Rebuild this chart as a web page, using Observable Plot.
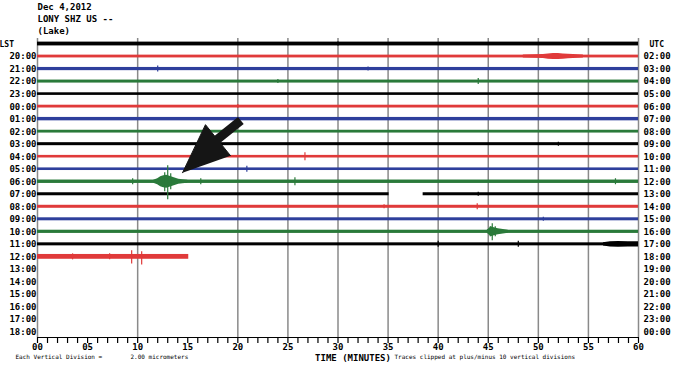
<!DOCTYPE html>
<html><head><meta charset="utf-8">
<script src="https://cdn.jsdelivr.net/npm/d3@7"></script>
<script src="https://cdn.jsdelivr.net/npm/@observablehq/plot@0.6"></script>
<style>body{margin:0;background:#fff} svg{display:block}</style>
</head><body><div id="chart"></div>
<script>
// ---- data ----
const titleLines = ["Dec 4,2012", "LONY SHZ US --", "(Lake)"];
const lstLabels = ["LST","20:00","21:00","22:00","23:00","00:00","01:00","02:00","03:00","04:00","05:00","06:00",
  "07:00","08:00","09:00","10:00","11:00","12:00","13:00","14:00","15:00","16:00","17:00","18:00"];
const utcLabels = ["UTC","02:00","03:00","04:00","05:00","06:00","07:00","08:00","09:00","10:00","11:00","12:00",
  "13:00","14:00","15:00","16:00","17:00","18:00","19:00","20:00","21:00","22:00","23:00","00:00"];
const xTickMinutes = [0,5,10,15,20,25,30,35,40,45,50,55,60];
const xTickLabels = ["00","05","10","15","20","25","30","35","40","45","50","55","60"];
const minorTickMinutes = [0,1,2,3,4,5,6,7,8,9,10,11,12,13,14,15,16,17,18,19,20,21,22,23,24,25,26,27,28,29,30,
  31,32,33,34,35,36,37,38,39,40,41,42,43,44,45,46,47,48,49,50,51,52,53,54,55,56,57,58,59,60];
const gridMinutes = [10,20,25,30,35,40,45,50,55];
const xTitle = "TIME (MINUTES)";
const noteLeft = "Each Vertical Division =";
const noteScale = "2.00 micrometers";
const noteRight = "Traces clipped at plus/minus 10 vertical divisions";

// trace rows recorded (row index = line from top), start/end minute, noise half-width (px)
const traceRow   = [0,1,2,3,4,5,6,7,8,9,10,11,12,12,13,14,15,16,17];
const traceStart = [0,0,0,0,0,0,0,0,0,0,0,0,0,38.5,0,0,0,0,0];
const traceEnd   = [60,60,60,60,60,60,60,60,60,60,60,60,35.1,60,60,60,60,60,15.1];
const traceNoise = [1.9,1.4,1.6,1.5,1.3,1.4,1.7,1.4,1.5,1.3,1.3,1.7,1.5,1.5,1.5,1.5,1.6,1.5,2.4];

// individual spikes: row, minute, up (px), down (px)
const spikeRow    = [17,17,17,17,11,11,11,11,11,11,11,15,15,15,13,13,9,10,2,3,8,16,16,5,14,2,3,0,8,12];
const spikeMinute = [9.4,10.4,3.5,7.2,13.0,12.7,13.3,9.5,16.3,25.7,57.7,45.4,45.2,45.7,43.9,34.6,26.7,20.9,12.0,44.0,52.0,40.0,48.0,20.0,50.5,33.0,24.0,30.0,16.0,44.0];
const spikeUp     = [6,5,3,3,16,9,8,3,3,4,3,8,5,5,3,2,4,3,3,3,2,3,3,2,2,2,2,2,2,2];
const spikeDown   = [7,8,3,3,18,10,8,3,3,4,3,9,5,5,3,2,4,3,3,3,2,3,3,2,2,2,2,2,2,2];

// event envelopes: row, minutes, half-amplitude (px)
const quakeRow = 11;
const quakeMinute = [11.6,12.0,12.3,12.6,12.9,13.2,13.5,13.8,14.1,14.5,15.0];
const quakeHalf   = [1.5,3,5,6,6.5,5.5,4.5,3.5,2.5,2,1.5];
const burstRow = 1;
const burstMinute = [48.5,49.5,50.5,51.0,51.5,52.0,52.5,53.0,54.0,54.5];
const burstHalf   = [1.5,1.8,2.0,2.6,3.0,3.0,2.6,2.2,1.8,1.5];
const event10Row = 15;
const event10Minute = [44.9,45.3,45.6,46.0,46.5,47.0];
const event10Half   = [1.5,5,4,3,2.2,1.5];
const tail11Row = 16;
const tail11Minute = [56.5,57.2,58.0,59.0,60.0];
const tail11Half   = [1.6,2.6,2.8,2.6,2.6];

// arrow (minute, row)
const arrowShaftMinute = [17.6, 20.3];
const arrowShaftRow    = [7.85, 6.1];
const arrowHeadMinute  = [14.48, 16.77, 19.27];
const arrowHeadRow     = [10.28, 6.44, 8.92];

// ---- build tables ----
const PX = 12.5; // pixels per row at this size (amplitudes were read in px)
const traces = traceRow.map((r,i)=>({row:r, start:traceStart[i], end:traceEnd[i], half:traceNoise[i]}));
const spikes = spikeRow.map((r,i)=>({row:r, minute:spikeMinute[i], up:spikeUp[i], down:spikeDown[i]}));
const envelopes = [];
[[quakeRow,quakeMinute,quakeHalf,"q"],[burstRow,burstMinute,burstHalf,"b"],
 [event10Row,event10Minute,event10Half,"e"],[tail11Row,tail11Minute,tail11Half,"t"]]
 .forEach(([r,ms,hs,id])=>ms.forEach((m,i)=>envelopes.push({id,row:r,minute:m,half:hs[i]})));
const rowsLbl = lstLabels.map((l,i)=>({row:i, lst:l, utc:utcLabels[i]}));
const shaft = arrowShaftMinute.map((m,i)=>({minute:m,row:arrowShaftRow[i]}));
const head = arrowHeadMinute.map((m,i)=>({minute:m,row:arrowHeadRow[i]}));
const xt = xTickMinutes.map((m,i)=>({minute:m,label:xTickLabels[i]}));

const Y0 = -0.44, Y1 = 23.44;
const colors = ["#000000","#e03a3a","#2e3f9c","#2a7a3a"];
const font = "DejaVu Sans Mono";
const B = {fontWeight:"bold", fill:"#000"};

const chart = Plot.plot({
  width: 700, height: 371,
  marginLeft: 37, marginRight: 62, marginTop: 38, marginBottom: 34,
  x: {domain:[0,60], axis:null},
  y: {domain:[Y0,Y1], reverse:true, axis:null},
  color: {type:"ordinal", domain:[0,1,2,3], range:colors},
  style: {fontFamily: font, background:"#fff"},
  marks: [
    Plot.ruleX(gridMinutes, {x:d=>d, y1:Y0, y2:Y1, stroke:"#8a8a8a", strokeWidth:1.5}),
    Plot.ruleX([0,60], {x:d=>d, y1:Y0, y2:Y1, stroke:"#8a8a8a", strokeWidth:1.5}),
    Plot.rect(traces, {x1:"start", x2:"end", y1:d=>d.row-d.half/PX, y2:d=>d.row+d.half/PX, fill:d=>d.row%4}),
    Plot.area(envelopes, {x1:"minute", y1:d=>d.row-d.half/PX, y2:d=>d.row+d.half/PX, z:"id", fill:d=>d.row%4}),
    Plot.ruleX(spikes, {x:"minute", y1:d=>d.row-d.up/PX, y2:d=>d.row+d.down/PX, stroke:d=>d.row%4, strokeWidth:1.2}),
    Plot.line(shaft, {x:"minute", y:"row", stroke:"#151515", strokeWidth:9, strokeLinecap:"butt"}),
    Plot.line(head, {x:"minute", y:"row", fill:"#151515", stroke:"#151515", strokeWidth:1}),
    // bottom axis
    Plot.ruleY([Y1], {y:d=>d, x1:0, x2:60, stroke:"#000", strokeWidth:1.2}),
    Plot.ruleX(minorTickMinutes, {x:d=>d, y1:Y1, y2:Y1+6/PX, stroke:"#000", strokeWidth:1.2}),
    Plot.text(xt, {x:"minute", y:Y1, text:"label", dy:10, fontSize:9, ...B}),
    Plot.text([xTitle], {x:31.5, frameAnchor:"bottom", text:d=>d, dy:23, fontSize:9, ...B}),
    Plot.text([noteLeft], {frameAnchor:"bottom-left", text:d=>d, textAnchor:"start", dx:-22, dy:21, fontSize:6, fill:"#000"}),
    Plot.text([noteScale], {frameAnchor:"bottom-left", text:d=>d, textAnchor:"start", dx:93, dy:21, fontSize:6, fill:"#000"}),
    Plot.text([noteRight], {frameAnchor:"bottom-left", text:d=>d, textAnchor:"start", dx:357, dy:21, fontSize:6, fill:"#000"}),
    // row labels
    Plot.text(rowsLbl.filter(d=>d.row>0), {x:0, y:"row", text:"lst", textAnchor:"end", dx:-1, fontSize:9, ...B}),
    Plot.text(rowsLbl.filter(d=>d.row>0), {x:60, y:"row", text:"utc", textAnchor:"start", dx:5, fontSize:9, ...B}),
    Plot.text(rowsLbl.filter(d=>d.row===0), {x:0, y:"row", text:"lst", textAnchor:"start", dx:-38, fontSize:8, ...B}),
    Plot.text(rowsLbl.filter(d=>d.row===0), {x:60, y:"row", text:"utc", textAnchor:"start", dx:11, fontSize:8, ...B}),
    // title lines
    ...titleLines.map((t,i)=>Plot.text([t], {frameAnchor:"top-left", text:d=>d, textAnchor:"start", lineAnchor:"middle", dy:-31+12*i, fontSize:9, ...B})),
  ]
});
document.getElementById("chart").append(chart);
</script>
</body></html>
